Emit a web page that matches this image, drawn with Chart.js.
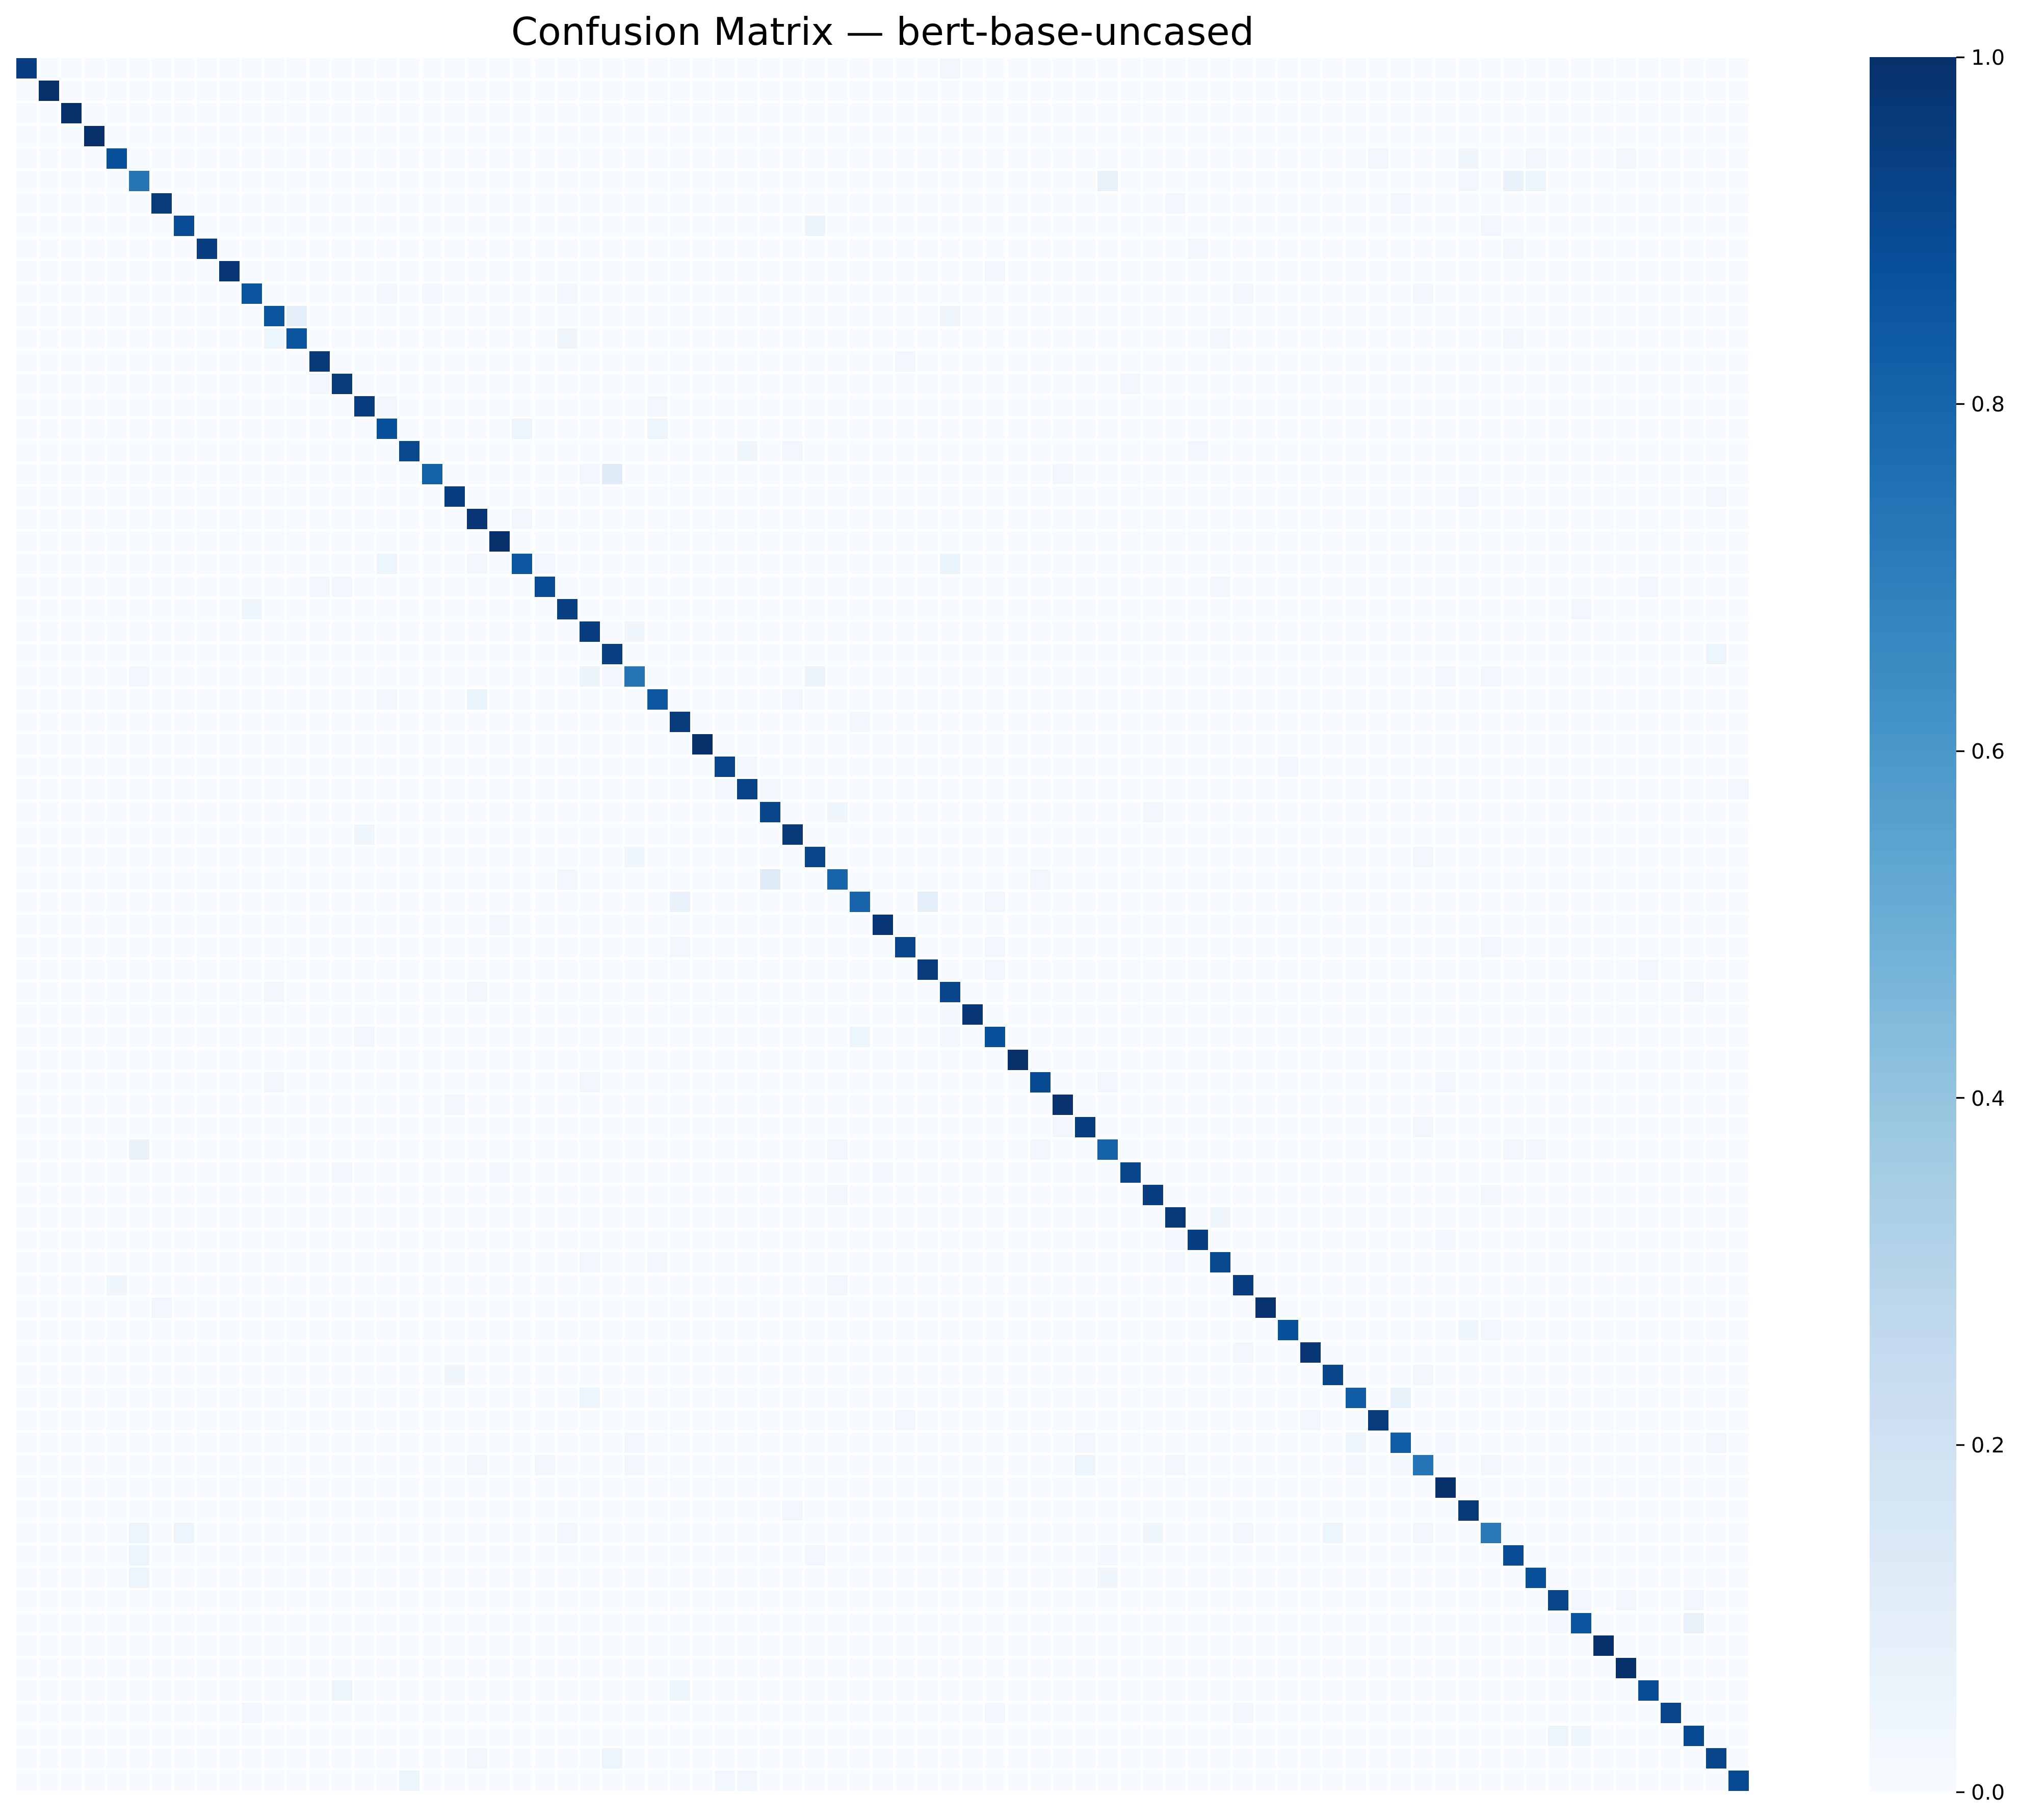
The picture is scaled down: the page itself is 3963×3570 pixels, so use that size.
<!DOCTYPE html>
<html>
<head>
<meta charset="utf-8">
<title>Confusion Matrix — bert-base-uncased</title>
<script src="https://cdn.jsdelivr.net/npm/chart.js@4/dist/chart.umd.js"></script>
<style>
  html, body { margin: 0; padding: 0; background: #ffffff; width: 3963px; height: 3570px; overflow: hidden; }
  canvas { position: absolute; display: block; }
  #matrix { left: 0; top: 0; }
  #colorbar { left: 3668px; top: 72px; }
</style>
</head>
<body>
<canvas id="matrix" width="3963" height="3570"></canvas>
<canvas id="colorbar" width="295" height="3490"></canvas>
<script>
const chartTitle = 'Confusion Matrix — bert-base-uncased';
const classCount = 77;

// Normalised diagonal of the confusion matrix, class 0 to class 76.
const diagonal = [
  .95, 1, 1, 1, .88, .74, .96, .89, .95, .98, .86, .86, .86, .97, .96, .95, .88, .91, .81, .95, .98, 1, .85, .89, .94, .95,
  .94, .74, .85, .96, 1, .92, .93, .92, .97, .92, .80, .80, .98, .92, .96, .92, .98, .88, 1, .90, .99, .95, .81, .92, .95, .97,
  .95, .91, .95, .99, .88, .98, .92, .83, .96, .83, .74, 1, .97, .72, .89, .88, .92, .86, 1, 1, .89, .92, .90, .92, .90
];

// Off-diagonal confusions that are visible: [true class, predicted class, share].
const offDiagonal = [
  [0,41,.03],
  [4,60,.03],[4,64,.04],[4,67,.03],[4,71,.03],
  [5,48,.08],[5,64,.03],[5,66,.07],[5,67,.05],
  [6,51,.03],[6,61,.03],
  [7,35,.06],[7,65,.03],
  [8,52,.03],[8,66,.03],
  [9,43,.03],
  [10,16,.02],[10,18,.02],[10,24,.03],[10,54,.03],[10,62,.03],
  [11,12,.10],[11,41,.04],
  [12,11,.05],[12,24,.04],[12,53,.03],[12,66,.03],
  [13,39,.03],
  [14,13,.03],[14,49,.03],
  [15,16,.03],[15,28,.03],
  [16,22,.05],[16,28,.05],
  [17,32,.04],[17,34,.03],[17,52,.03],
  [18,25,.03],[18,26,.12],[18,46,.03],
  [19,64,.03],[19,75,.03],
  [20,22,.03],
  [22,16,.05],[22,20,.03],[22,23,.03],[22,41,.06],
  [23,13,.03],[23,14,.03],[23,53,.03],[23,72,.03],
  [24,10,.04],[24,69,.03],
  [25,27,.04],
  [26,75,.05],
  [27,5,.03],[27,25,.06],[27,26,.02],[27,35,.06],[27,63,.03],[27,65,.03],
  [28,16,.03],[28,20,.06],[28,34,.03],
  [29,37,.03],
  [31,32,.03],[31,56,.03],
  [32,31,.02],[32,33,.02],[32,76,.03],
  [33,36,.04],[33,50,.03],
  [34,15,.04],
  [35,27,.04],[35,62,.03],
  [36,24,.03],[36,33,.12],[36,45,.03],
  [37,29,.07],[37,40,.09],[37,43,.03],
  [38,21,.03],
  [39,29,.03],[39,43,.03],[39,65,.03],
  [40,43,.03],[40,72,.03],
  [41,11,.03],[41,20,.03],[41,74,.03],
  [42,41,.02],
  [43,15,.03],[43,37,.05],[43,41,.02],
  [45,11,.03],[45,25,.03],[45,48,.03],[45,63,.03],
  [46,19,.03],
  [47,46,.03],[47,62,.03],
  [48,5,.07],[48,36,.03],[48,45,.03],[48,66,.03],[48,67,.02],
  [49,14,.03],[49,21,.03],[49,38,.03],
  [50,36,.03],[50,65,.03],
  [51,53,.04],
  [52,51,.02],[52,63,.03],
  [53,25,.03],[53,28,.03],[53,51,.03],
  [54,4,.04],[54,36,.03],
  [55,6,.03],
  [56,64,.04],[56,65,.03],
  [57,54,.03],
  [58,19,.04],[58,62,.03],
  [59,25,.05],[59,61,.08],
  [60,39,.03],[60,57,.03],
  [61,27,.03],[61,47,.03],[61,59,.04],[61,63,.02],[61,75,.03],
  [62,20,.03],[62,23,.03],[62,27,.03],[62,47,.05],[62,51,.03],[62,59,.03],[62,61,.02],[62,65,.03],
  [64,34,.03],
  [65,5,.05],[65,7,.05],[65,24,.03],[65,50,.04],[65,54,.03],[65,58,.05],[65,62,.03],
  [66,5,.05],[66,35,.03],[66,48,.02],
  [67,5,.05],[67,48,.04],
  [68,69,.03],[68,71,.03],[68,74,.03],
  [69,68,.02],[69,74,.08],
  [72,14,.05],[72,29,.05],
  [73,10,.03],[73,43,.03],[73,54,.03],
  [74,68,.05],[74,69,.04],
  [75,20,.03],[75,26,.05],
  [76,17,.05],[76,31,.03],[76,32,.03]
];

const colorbarTicks = [0, 0.2, 0.4, 0.6, 0.8, 1.0];

// matplotlib "Blues" anchor colours, evenly spaced from 0 to 1.
const bluesAnchors = [
  [247,251,255],[222,235,247],[198,219,239],[158,202,225],
  [107,174,214],[66,146,198],[33,113,181],[8,81,156],[8,48,107]
];

function blues(v) {
  const t = Math.max(0, Math.min(1, v)) * (bluesAnchors.length - 1);
  const i = Math.min(Math.floor(t), bluesAnchors.length - 2);
  const f = t - i;
  const a = bluesAnchors[i], b = bluesAnchors[i + 1];
  return 'rgb(' + [0, 1, 2].map(k => Math.round(a[k] + (b[k] - a[k]) * f)).join(',') + ')';
}

// Assemble the full table from the arrays above.
const table = [];
for (let r = 0; r < classCount; r++) {
  table.push(new Array(classCount).fill(0));
  table[r][r] = diagonal[r];
}
offDiagonal.forEach(([r, c, v]) => { table[r][c] = v; });

const cells = [];
for (let r = 0; r < classCount; r++) {
  for (let c = 0; c < classCount; c++) {
    cells.push({ x: c + 0.5, y: r + 0.5, v: table[r][c] });
  }
}

const FONT = '"DejaVu Sans"';
const CELL_SIDE = 40;

// Snap each scale-placed cell to whole pixels so its edges stay crisp.
const snapCells = {
  id: 'snapCells',
  beforeDatasetsDraw(chart) {
    chart.getDatasetMeta(0).data.forEach(point => {
      point.x = Math.round(point.x - CELL_SIDE / 2) + CELL_SIDE / 2;
      point.y = Math.round(point.y - CELL_SIDE / 2) + CELL_SIDE / 2;
    });
  }
};

new Chart(document.getElementById('matrix'), {
  type: 'scatter',
  plugins: [snapCells],
  data: {
    datasets: [{
      label: 'share',
      data: cells,
      pointStyle: 'rect',
      pointRadius: CELL_SIDE / Math.SQRT2,
      pointHoverRadius: CELL_SIDE / Math.SQRT2,
      pointBorderWidth: 0,
      pointBackgroundColor: ctx => blues(ctx.raw.v),
      showLine: false
    }]
  },
  options: {
    responsive: false,
    devicePixelRatio: 1,
    animation: false,
    events: [],
    layout: { padding: { left: 30, right: 530, top: 0, bottom: 55 } },
    plugins: {
      legend: { display: false },
      tooltip: { enabled: false },
      title: {
        display: true,
        text: chartTitle,
        color: '#000000',
        font: { family: FONT, size: 75, weight: 'normal', lineHeight: 1.1 },
        padding: { top: 27.75, bottom: 1.75 }
      }
    },
    scales: {
      x: { type: 'linear', min: 0, max: classCount, display: false },
      y: { type: 'linear', min: 0, max: classCount, reverse: true, display: false }
    }
  }
});

// Colour bar: overlapping floating bars, one per colour level of the map.
// Chart.js paints the first dataset last, so the darkest (shortest) bar comes first.
const levels = 256;
const barDatasets = [];
for (let i = levels - 1; i >= 0; i--) {
  barDatasets.push({
    data: [[i / levels, 1]],
    backgroundColor: blues((i + 0.5) / levels),
    borderWidth: 0,
    grouped: false,
    barPercentage: 1,
    categoryPercentage: 1
  });
}

new Chart(document.getElementById('colorbar'), {
  type: 'bar',
  data: { labels: ['share'], datasets: barDatasets },
  options: {
    responsive: false,
    devicePixelRatio: 1,
    animation: false,
    events: [],
    layout: { padding: { left: 0, right: 0, top: 40, bottom: 47 } },
    plugins: { legend: { display: false }, tooltip: { enabled: false }, title: { display: false } },
    scales: {
      x: { display: false },
      y: {
        type: 'linear',
        position: 'right',
        min: 0,
        max: 1,
        afterBuildTicks: axis => { axis.ticks = colorbarTicks.map(value => ({ value })); },
        afterFit: axis => { axis.width = 125; },
        border: { display: false },
        grid: {
          drawOnChartArea: false,
          drawTicks: true,
          tickLength: 16,
          tickWidth: 3.33,
          tickColor: '#000000'
        },
        ticks: {
          color: '#000000',
          padding: 13,
          labelOffset: 4,
          font: { family: FONT, size: 41.67 },
          callback: value => Number(value).toFixed(1)
        }
      }
    }
  }
});
</script>
</body>
</html>
